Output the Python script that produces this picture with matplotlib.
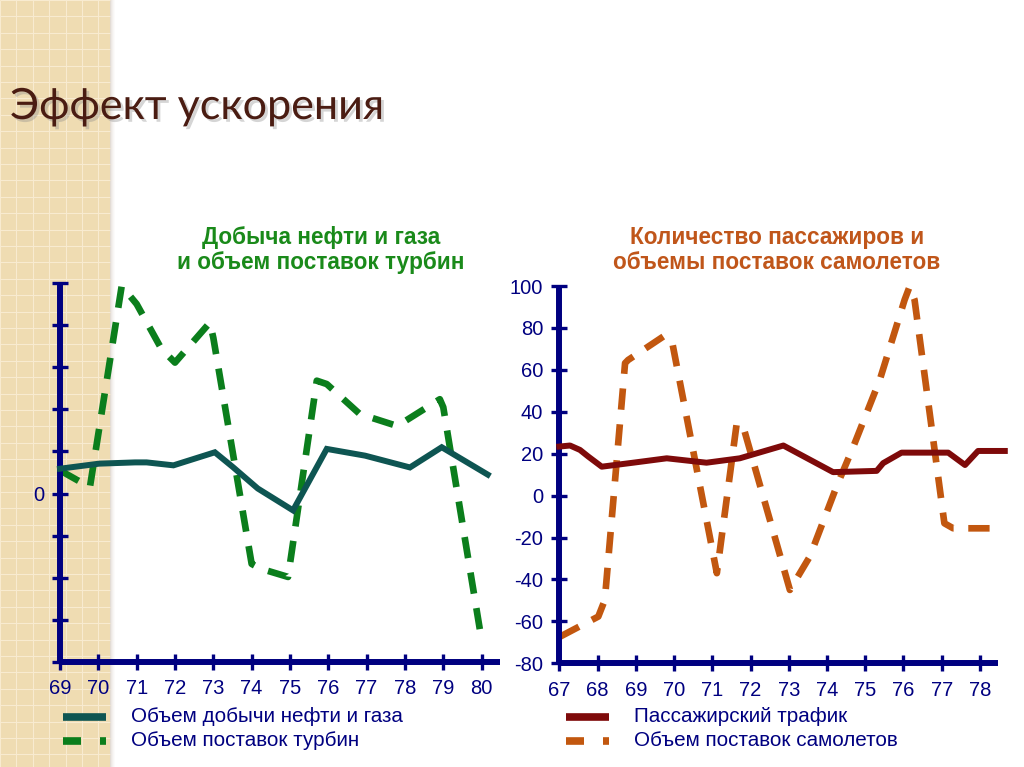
import matplotlib
matplotlib.use("Agg")
import matplotlib.pyplot as plt
import matplotlib.patheffects as pe
from matplotlib.patches import Rectangle
from matplotlib.lines import Line2D

# ---------------- data ----------------
oil_x = [69.0, 70.02, 70.96, 71.26, 71.96, 73.04, 73.51, 74.16, 75.08, 75.96, 76.96, 78.13, 78.96, 80.16]
oil_y = [5.9, 7.1, 7.4, 7.4, 6.7, 9.8, 6.3, 1.2, -4.0, 10.6, 9.0, 6.2, 11.0, 4.5]

turb_x = [69.0, 69.78, 70.61, 71.0, 71.65, 72.0, 72.91, 73.0, 74.0, 74.22, 74.95, 75.7, 75.96,
          76.82, 77.78, 77.95, 78.91, 79.0, 80.0]
turb_y = [5.5, 1.5, 49.3, 45.0, 34.3, 31.1, 40.6, 37.0, -16.7, -17.8, -19.8, 26.8, 26.0,
          18.9, 16.1, 16.9, 22.4, 20.5, -34.8]

pass_x = [67.0, 67.28, 67.54, 67.76, 68.11, 68.93, 69.81, 70.85, 71.72, 72.86, 74.16, 75.30,
          75.47, 75.95, 77.17, 77.61, 77.95, 78.65]
pass_y = [23.4, 23.9, 21.8, 18.6, 13.8, 15.7, 17.8, 15.7, 17.8, 23.9, 11.2, 11.8,
          15.5, 20.5, 20.5, 14.6, 21.3, 21.3]

plane_x = [67.02, 68.02, 68.19, 68.72, 68.80, 69.72, 69.94, 71.12, 71.64, 71.81, 73.03, 73.55,
           74.25, 74.69, 75.38, 76.03, 76.16, 76.29, 77.07, 77.30, 78.0, 78.52]
plane_y = [-67.3, -57.7, -49.8, 63.2, 64.7, 75.9, 74.3, -37.0, 34.5, 32.9, -45.0, -29.1,
           4.3, 23.4, 55.2, 93.4, 99.7, 93.4, -13.2, -15.6, -15.6, -15.6]

left_years = list(range(69, 81))
left_year_labels = [str(y) for y in left_years]
right_years = list(range(67, 79))
right_year_labels = [str(y) for y in right_years]
left_yticks = list(range(-40, 51, 10))
right_yticks = list(range(-80, 101, 20))

title = "Эффект ускорения"
left_title = "Добыча нефти и газа\nи объем поставок турбин"
right_title = "Количество пассажиров и\nобъемы поставок самолетов"
left_legend = ["Объем добычи нефти и газа", "Объем поставок турбин"]
right_legend = ["Пассажирский трафик", "Объем поставок самолетов"]

NAVY = "#000080"
C_OIL = "#0E5552"
C_TURB = "#0B7E1C"
C_PASS = "#7E0A0A"
C_PLANE = "#C2570F"

plt.rcParams['font.family'] = ['Liberation Sans', 'DejaVu Sans']
plt.rcParams['axes.unicode_minus'] = False

fig = plt.figure(figsize=(10.24, 7.67), dpi=100)
fig.patch.set_facecolor("white")

# ---------------- background strip ----------------
bg = fig.add_axes([0, 0, 1, 1], zorder=-10)
bg.set_xlim(0, 1024)
bg.set_ylim(767, 0)
bg.axis("off")
bg.add_patch(Rectangle((0, 0), 110, 767, facecolor="#EFDCB2", edgecolor="none"))
k = 0.0
while k < 110:
    bg.plot([k, k], [0, 767], color="#F8EBD0", lw=0.8, solid_capstyle="butt")
    k += 16.4
k = 0.0
while k < 767:
    bg.plot([0, 110], [k, k], color="#F8EBD0", lw=0.8, solid_capstyle="butt")
    k += 16.4
for i, a in enumerate([0.22, 0.14, 0.09, 0.05, 0.025]):
    bg.add_patch(Rectangle((110 + i, 0), 1, 767, facecolor="#806040", alpha=a, edgecolor="none"))

fig.text(10 / 1024, 1 - 107 / 767, title, fontsize=31, family=["Lato", "DejaVu Sans"],
         color="#4A1C12", va="center", ha="left",
         path_effects=[pe.withSimplePatchShadow(offset=(2, -2), shadow_rgbFace="#888888", alpha=0.35)])


def style_axes(ax, xlim, ylim, xticks, xlabels, yticks):
    ax.set_xlim(*xlim)
    ax.set_ylim(*ylim)
    ax.patch.set_alpha(0)
    for s in ["top", "right"]:
        ax.spines[s].set_visible(False)
    for s in ["left", "bottom"]:
        ax.spines[s].set_color(NAVY)
        ax.spines[s].set_linewidth(4.3)
        ax.spines[s].set_capstyle("butt")
    ax.set_xticks(xticks)
    ax.set_xticklabels(xlabels)
    ax.set_yticks(yticks)
    ax.tick_params(axis="both", direction="inout", length=11, width=2.4, color=NAVY,
                   labelcolor=NAVY, labelsize=14.5)
    ax.tick_params(axis="x", pad=7)
    ax.tick_params(axis="y", pad=6)


# ---------------- left chart ----------------
axL = fig.add_axes([60 / 1024, 105 / 767, 440 / 1024, 379 / 767])
style_axes(axL, (69, 80.48), (-40, 50), left_years, left_year_labels, left_yticks)
axL.set_yticklabels(["0" if v == 0 else "" for v in left_yticks])
axL.plot(oil_x, oil_y, color=C_OIL, lw=4.3, clip_on=False, solid_joinstyle="miter", zorder=3)
lt, = axL.plot(turb_x, turb_y, color=C_TURB, lw=4.8, clip_on=False, zorder=2)
lt.set_dashes((3.2, 2.2))
fig.text(321 / 1024, 1 - 250 / 767, left_title, ha="center", va="center", fontsize=16.3,
         fontweight="bold", color="#1A8A1A", linespacing=1.1)

# ---------------- right chart ----------------
axR = fig.add_axes([559.3 / 1024, 103.7 / 767, 439 / 1024, 377.3 / 767])
style_axes(axR, (67, 78.48), (-80, 100), right_years, right_year_labels, right_yticks)
axR.plot(pass_x, pass_y, color=C_PASS, lw=4.3, clip_on=False, zorder=3)
lp, = axR.plot(plane_x, plane_y, color=C_PLANE, lw=4.8, clip_on=False, zorder=2)
lp.set_dashes((3.2, 2.2))
fig.text(777 / 1024, 1 - 250 / 767, right_title, ha="center", va="center", fontsize=16.3,
         fontweight="bold", color="#C0561A", linespacing=1.1)

# ---------------- legends ----------------
def legend_entry(x0, y, color, dashed, label):
    yf = 1 - y / 767
    if dashed:
        fig.add_artist(Line2D([x0 / 1024, (x0 + 18) / 1024], [yf, yf], color=color, lw=5.5,
                              solid_capstyle="butt"))
        fig.add_artist(Line2D([(x0 + 37) / 1024, (x0 + 43) / 1024], [yf, yf], color=color, lw=5.5,
                              solid_capstyle="butt"))
    else:
        fig.add_artist(Line2D([x0 / 1024, (x0 + 43) / 1024], [yf, yf], color=color, lw=5.5,
                              solid_capstyle="butt"))
    fig.text((x0 + 68) / 1024, yf, label, ha="left", va="center", fontsize=14.9, color=NAVY)


legend_entry(63, 717, C_OIL, False, left_legend[0])
legend_entry(63, 741, C_TURB, True, left_legend[1])
legend_entry(566, 717, C_PASS, False, right_legend[0])
legend_entry(566, 741, C_PLANE, True, right_legend[1])

fig.savefig("out.png", dpi=100)
